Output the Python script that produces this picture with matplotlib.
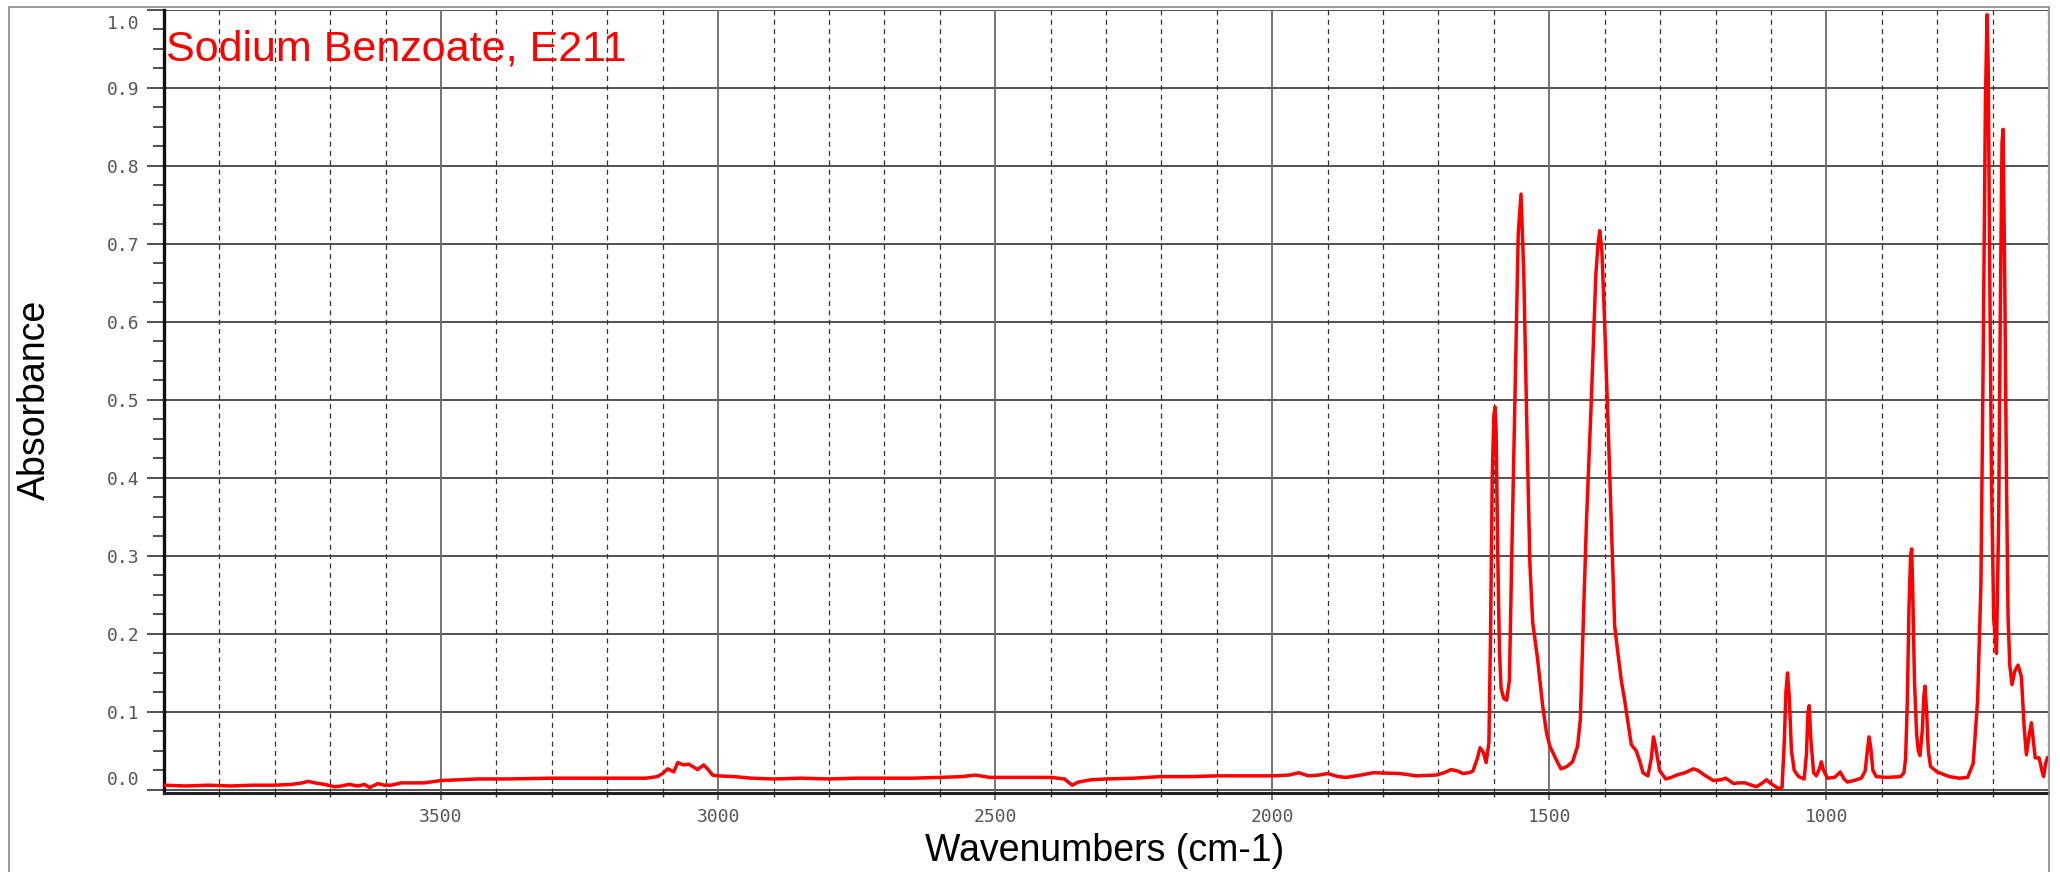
import numpy as np
import matplotlib
matplotlib.use("Agg")
import matplotlib.pyplot as plt
import matplotlib.transforms as mtransforms
from matplotlib.patches import Rectangle

# ── spectrum (wavenumber cm-1, absorbance) ──
wavenumbers = [
    4000, 3960, 3920, 3880, 3840, 3800, 3770, 3750, 3740, 3728, 3710, 3692, 3680,
    3666, 3650, 3638, 3629, 3614, 3602, 3590, 3572, 3530, 3500, 3434, 3380, 3300,
    3200, 3130, 3110, 3100, 3091, 3080, 3073, 3062, 3053, 3037, 3026, 3018, 3010,
    3000, 2970, 2940, 2900, 2850, 2800, 2750, 2700, 2650, 2600, 2560, 2536, 2510,
    2460, 2400, 2375, 2361, 2350, 2327, 2300, 2250, 2202, 2150, 2100, 2050, 2000,
    1970, 1952, 1935, 1915, 1900, 1881, 1866, 1840, 1818, 1770, 1740, 1704, 1690,
    1677, 1665, 1656, 1645, 1638, 1630, 1625, 1619, 1614, 1609, 1606, 1603, 1600,
    1598, 1596, 1593, 1590, 1587, 1582, 1577, 1572, 1568, 1562, 1556, 1551, 1546,
    1540, 1535, 1530, 1521, 1512, 1505, 1499, 1487, 1479, 1475, 1468, 1458, 1449,
    1444, 1440, 1433, 1424, 1416, 1412, 1409, 1405, 1400, 1391, 1382, 1377, 1370,
    1364, 1352, 1343, 1336, 1331, 1322, 1316, 1312, 1308, 1301, 1290, 1280, 1270,
    1255, 1240, 1232, 1220, 1204, 1190, 1182, 1167, 1160, 1147, 1135, 1126, 1115,
    1108, 1100, 1087, 1080, 1076, 1073, 1070, 1067, 1063, 1058, 1050, 1040, 1036,
    1033, 1031, 1028, 1023, 1018, 1012, 1009, 1005, 998, 985, 975, 968, 962, 950,
    937, 930, 926, 923, 920, 916, 910, 890, 866, 860, 857, 854, 851, 848, 846, 844,
    841, 837, 834, 831, 827, 824, 822, 819, 816, 812, 800, 778, 760, 745, 735, 727,
    721, 717, 713, 710, 708, 705, 702, 698, 693, 689, 686, 683, 681, 678, 675, 672,
    669, 665, 660, 654, 648, 643, 639, 634, 630, 626, 623, 616, 611, 608, 604, 601,
]
absorbance = [
    0.006, 0.005, 0.006, 0.005, 0.006, 0.006, 0.007, 0.009, 0.011, 0.009, 0.007, 0.004, 0.005,
    0.007, 0.005, 0.007, 0.003, 0.008, 0.006, 0.006, 0.009, 0.009, 0.012, 0.014, 0.014, 0.015,
    0.015, 0.015, 0.017, 0.021, 0.027, 0.023, 0.035, 0.032, 0.033, 0.026, 0.032, 0.026, 0.019,
    0.018, 0.017, 0.015, 0.014, 0.015, 0.014, 0.015, 0.015, 0.015, 0.016, 0.017, 0.019, 0.016,
    0.016, 0.016, 0.014, 0.006, 0.010, 0.013, 0.014, 0.015, 0.017, 0.017, 0.018, 0.018, 0.018,
    0.019, 0.022, 0.018, 0.019, 0.021, 0.017, 0.016, 0.019, 0.022, 0.021, 0.018, 0.019, 0.022,
    0.026, 0.024, 0.021, 0.022, 0.024, 0.040, 0.054, 0.048, 0.035, 0.060, 0.200, 0.400, 0.480,
    0.491, 0.460, 0.300, 0.180, 0.130, 0.117, 0.115, 0.140, 0.290, 0.500, 0.714, 0.764, 0.661,
    0.449, 0.290, 0.215, 0.167, 0.108, 0.073, 0.056, 0.038, 0.027, 0.028, 0.030, 0.036, 0.056,
    0.090, 0.184, 0.343, 0.502, 0.661, 0.700, 0.717, 0.690, 0.597, 0.406, 0.210, 0.180, 0.140,
    0.115, 0.058, 0.050, 0.035, 0.022, 0.018, 0.040, 0.068, 0.055, 0.025, 0.014, 0.016, 0.019,
    0.022, 0.027, 0.025, 0.019, 0.012, 0.013, 0.015, 0.008, 0.009, 0.009, 0.006, 0.004, 0.009,
    0.013, 0.008, 0.002, 0.003, 0.060, 0.125, 0.150, 0.120, 0.050, 0.025, 0.017, 0.014, 0.045,
    0.100, 0.108, 0.065, 0.022, 0.018, 0.028, 0.036, 0.025, 0.015, 0.016, 0.023, 0.014, 0.010, 0.012,
    0.015, 0.024, 0.050, 0.068, 0.055, 0.025, 0.017, 0.016, 0.017, 0.022, 0.040, 0.110, 0.230, 0.300, 0.309, 0.250,
    0.140, 0.070, 0.050, 0.044, 0.075, 0.120, 0.133, 0.100, 0.050, 0.030, 0.023, 0.017, 0.015, 0.016, 0.034, 0.115,
    0.265, 0.550, 0.880, 0.994, 0.930, 0.650, 0.400, 0.220, 0.175, 0.350, 0.620, 0.830, 0.847, 0.650, 0.400, 0.220,
    0.160, 0.135, 0.152, 0.160, 0.145, 0.080, 0.045, 0.070, 0.086, 0.060, 0.041, 0.041, 0.025, 0.017, 0.035, 0.041,
]

title = "Sodium Benzoate, E211"
x_label = "Wavenumbers (cm-1)"
y_label = "Absorbance"
x_major = [3500, 3000, 2500, 2000, 1500, 1000]
y_major = [0.0, 0.1, 0.2, 0.3, 0.4, 0.5, 0.6, 0.7, 0.8, 0.9, 1.0]

W, H, DPI = 2060, 872, 100
fig = plt.figure(figsize=(W / DPI, H / DPI), dpi=DPI)

# plot area in pixels: left 164, right 2048, top 10, bottom 793
ax = fig.add_axes([164 / W, (H - 793) / H, (2048 - 164) / W, (793 - 10) / H])
ax.set_xlim(4000, 600)
ax.set_ylim(-0.004, 1.0)

# ── grid: solid at every 0.1 and every 500 cm-1, dashed at every 100 cm-1 ──
for y in y_major:
    ax.axhline(y, color="#333333", lw=1.2, zorder=1)
for x in np.arange(700, 4000, 100):
    if x % 500 == 0:
        ax.axvline(x, color="#6a6a6a", lw=1.3, zorder=1)
    else:
        ax.axvline(x, color="#303030", lw=0.9, ls=(0, (4, 3.5)), zorder=1)
ax.axvline(600, color="#303030", lw=0.9, ls=(0, (4, 3.5)), zorder=1)

ax.plot(wavenumbers, absorbance, color="#ff0000", lw=2.5, zorder=3,
        solid_joinstyle="round")

# ── spines / ticks ──
for side in ("top", "right"):
    ax.spines[side].set_visible(False)
ax.spines["left"].set_linewidth(2.4)
ax.spines["bottom"].set_linewidth(2.2)
ax.spines["left"].set_color("#111111")
ax.spines["bottom"].set_color("#222222")

ax.set_xticks(x_major)
ax.set_xticks(np.arange(700, 4000, 100), minor=True)
ax.set_yticks(y_major)
ax.set_yticks(np.arange(0, 1.0001, 0.025), minor=True)
ax.set_yticklabels([f"{v:.1f}" for v in y_major])

ax.tick_params(axis="x", which="major", length=5, width=1.1, color="#555555",
               pad=6, labelsize=13, labelcolor="#555555")
ax.tick_params(axis="x", which="minor", length=3, width=1.0, color="#333333")
ax.tick_params(axis="y", which="major", length=12, width=1.1, color="#222222",
               pad=6, labelsize=13, labelcolor="#555555")
ax.tick_params(axis="y", which="minor", length=8, width=1.1, color="#222222")
for lab in ax.get_xticklabels() + ax.get_yticklabels():
    lab.set_family("DejaVu Sans Mono")

# end labels on the y axis sit inside the range, like the original software
ticks = ax.yaxis.get_major_ticks()
up = mtransforms.ScaledTranslation(0, 12 / DPI, fig.dpi_scale_trans)
down = mtransforms.ScaledTranslation(0, -12 / DPI, fig.dpi_scale_trans)
ticks[0].label1.set_transform(ticks[0].label1.get_transform() + up)
ticks[-1].label1.set_transform(ticks[-1].label1.get_transform() + down)

# ── texts ──
ax.text(0.001, (783 - 50) / 783, title, transform=ax.transAxes, color="#ff0000",
        fontsize=31, family="Liberation Sans", ha="left", va="baseline", zorder=4)
fig.text(35 / W, 1 - 400 / H, y_label, rotation=90, ha="center", va="center",
         fontsize=27, family="Liberation Sans")
fig.text(1105 / W, 1 - 851 / H, x_label, ha="center", va="center",
         fontsize=27, family="Liberation Sans")

# outer frame of the export window
fig.add_artist(Rectangle((9 / W, -0.05), (2049 - 9) / W, 1.05 - 7 / H,
                         transform=fig.transFigure, fill=False,
                         edgecolor="#8a8a8a", lw=1.2))

fig.savefig("out.png", dpi=DPI)
